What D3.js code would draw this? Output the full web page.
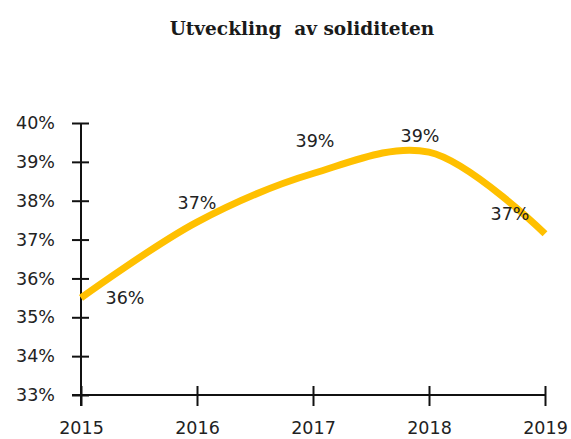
<!DOCTYPE html>
<html>
<head>
<meta charset="utf-8">
<script src="https://cdn.jsdelivr.net/npm/d3@7"></script>
<style>
  body { margin: 0; background: #fff; }
</style>
</head>
<body>
<script>
var years = [2015, 2016, 2017, 2018, 2019];
var soliditet = [35.5, 37.45, 38.7, 39.25, 37.15];
var yTicks = [33, 34, 35, 36, 37, 38, 39, 40];
var title = "Utveckling  av soliditeten";

var svgWidth = 571,
    svgHeight = 439;
var margin = { top: 123, right: 26, bottom: 44, left: 81 };
var width = svgWidth - margin.left - margin.right,
    height = svgHeight - margin.top - margin.bottom;

var svg = d3.select("body").append("svg")
    .attr("width", svgWidth)
    .attr("height", svgHeight);

svg.append("text")
    .attr("x", 302)
    .attr("y", 35)
    .attr("text-anchor", "middle")
    .attr("font-family", "DejaVu Serif, serif")
    .attr("font-weight", "bold")
    .attr("font-size", 18.5)
    .attr("fill", "#1a1a1a")
    .style("white-space", "pre")
    .text(title);

var g = svg.append("g")
    .attr("transform", "translate(" + margin.left + "," + margin.top + ")");

var x = d3.scaleLinear().domain([2015, 2019]).range([0, width]);
var y = d3.scaleLinear().domain([33, 40]).range([height, 0]);

var font = "DejaVu Sans, sans-serif";

// y axis, ticks crossing the line
var yAxis = g.append("g")
    .call(d3.axisLeft(y).tickValues(yTicks).tickSize(0).tickPadding(26)
        .tickFormat(d => d + "%"));
yAxis.select(".domain").remove();
yAxis.selectAll(".tick line")
    .attr("x1", -9).attr("x2", 8)
    .attr("stroke", "#111").attr("stroke-width", 2);
yAxis.selectAll(".tick text")
    .attr("font-family", font).attr("font-size", 17.5).attr("fill", "#222");

// x axis
var xAxis = g.append("g")
    .attr("transform", "translate(0," + height + ")")
    .call(d3.axisBottom(x).tickValues(years).tickSize(0).tickPadding(27)
        .tickFormat(d3.format("d")));
xAxis.select(".domain").remove();
xAxis.selectAll(".tick line")
    .attr("y1", -9).attr("y2", 11)
    .attr("stroke", "#111").attr("stroke-width", 2);
xAxis.selectAll(".tick text")
    .attr("font-family", font).attr("font-size", 17.5).attr("fill", "#222");

// axis lines
g.append("line")
    .attr("x1", 0).attr("x2", 0)
    .attr("y1", y(40)).attr("y2", height + 11)
    .attr("stroke", "#111").attr("stroke-width", 2);
g.append("line")
    .attr("x1", -9).attr("x2", x(2019))
    .attr("y1", height).attr("y2", height)
    .attr("stroke", "#111").attr("stroke-width", 2);

var points = years.map((yr, i) => ({ year: yr, value: soliditet[i] }));

var line = d3.line()
    .x(d => x(d.year))
    .y(d => y(d.value))
    .curve(d3.curveCatmullRom.alpha(0.5));

g.append("path")
    .datum(points)
    .attr("fill", "none")
    .attr("stroke", "#FFC000")
    .attr("stroke-width", 7)
    .attr("stroke-linejoin", "round")
    .attr("d", line);

// data label placement, as in the original
var labelShift = [[44, 0], [0, -19], [2, -33], [-9, -16], [-35, -20]];

g.selectAll(".lbl")
    .data(points)
    .enter().append("text")
    .attr("class", "lbl")
    .attr("x", (d, i) => x(d.year) + labelShift[i][0])
    .attr("y", (d, i) => y(d.value) + labelShift[i][1])
    .attr("dy", "0.35em")
    .attr("text-anchor", "middle")
    .attr("font-family", font)
    .attr("font-size", 17.5)
    .attr("fill", "#222")
    .text(d => Math.round(d.value) + "%");
</script>
</body>
</html>
